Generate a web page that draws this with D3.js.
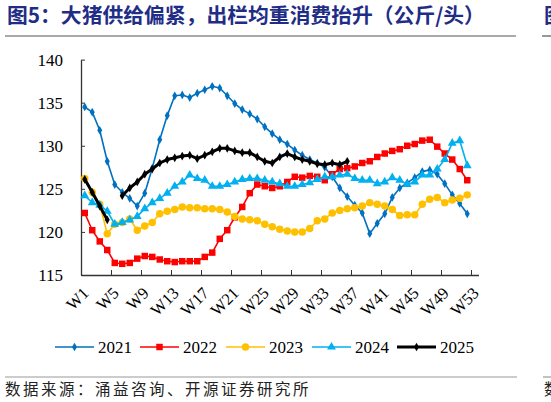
<!DOCTYPE html>
<html>
<head>
<meta charset="utf-8">
<script src="https://cdn.jsdelivr.net/npm/d3@7"></script>
<style>
  body { margin: 0; background: #fff; }
  svg { display: block; }
</style>
</head>
<body>
<div id="chart"></div>
<script>
// weeks on the x axis (53 slots, data stops at W52)
let weeks = d3.range(1, 54).map(d => "W" + d);
let tickLabels = ["W1","W5","W9","W13","W17","W21","W25","W29","W33","W37","W41","W45","W49","W53"];
let yTicks = [115, 120, 125, 130, 135, 140];
let years = ["2021", "2022", "2023", "2024", "2025"];

// average slaughter weight, kg/head
let v2021 = [134.5,133.9,131.8,128.2,125.5,124.6,123.9,123.0,124.5,127.4,130.7,133.5,135.8,135.9,135.6,136.1,136.5,136.9,
  136.7,135.8,134.9,134.2,133.7,133.1,132.2,131.4,130.7,130.2,129.5,128.9,128.4,128.0,127.5,126.4,125.1,124.1,123.1,122.2,
  119.8,121.0,122.1,124.0,125.1,125.7,126.3,127.0,127.2,126.7,125.6,124.3,123.3,122.1];
let v2022 = [122.2,120.2,118.9,117.9,116.4,116.3,116.4,116.9,117.2,117.1,116.8,116.6,116.5,116.6,116.6,116.6,117.1,117.6,
  119.2,120.2,121.7,122.9,124.5,125.5,125.3,125.1,125.3,125.8,126.4,126.3,126.5,126.4,126.0,126.7,127.3,127.4,127.6,128.0,
  128.2,128.7,129.1,129.4,129.6,130.0,130.2,130.6,130.7,129.9,129.1,128.4,127.3,126.0];
let v2023 = [126.2,124.6,123.2,119.8,120.9,121.1,121.5,120.2,120.7,121.1,122.1,122.4,122.6,122.9,122.8,122.8,122.7,122.7,
  122.6,122.3,121.8,121.5,121.4,121.3,120.9,120.6,120.3,120.1,120.0,120.0,120.4,121.3,121.5,122.2,122.5,122.7,122.8,123.0,
  123.4,123.2,123.0,122.6,121.9,122.0,122.0,123.2,123.8,124.0,123.4,123.7,123.9,124.3];
let v2024 = [124.2,123.4,123.1,122.4,120.9,121.1,121.4,121.8,122.7,123.4,123.9,124.5,125.3,125.8,126.6,126.2,126.0,125.3,
  125.3,125.5,125.8,126.1,126.2,126.2,126.0,125.8,125.6,125.3,125.3,125.5,125.7,126.1,126.4,126.4,126.6,126.7,126.2,126.0,
  126.0,125.6,125.8,126.3,126.0,125.5,125.8,126.6,126.6,127.3,128.4,130.3,130.6,127.7];
let v2025 = [126.1,124.6,123.0,121.4,null,124.2,125.1,125.8,126.7,127.3,128.0,128.4,128.6,128.8,128.9,128.5,128.9,129.3,
  129.7,129.7,129.4,129.2,129.2,128.7,128.2,128.0,128.7,129.1,128.7,128.4,128.2,127.9,127.8,128.0,127.8,128.2];

let allValues = [v2021, v2022, v2023, v2024, v2025];
let colors = ["#0070C0", "#FF0000", "#FFC000", "#00B0F0", "#000000"];
let markers = [d3.symbolDiamond, d3.symbolSquare, d3.symbolCircle, d3.symbolTriangle, d3.symbolDiamond];
let markerSize = [22, 42, 44, 34, 22];
let lineWidth = [1.6, 1.6, 1.6, 1.6, 3];

let svg = d3.select("#chart").append("svg")
    .attr("width", 551)
    .attr("height", 402);

// title + rules
svg.append("text")
    .attr("x", 7).attr("y", 23)
    .attr("font-family", "Noto Sans CJK SC")
    .attr("font-weight", "bold")
    .attr("font-size", 20.8)
    .attr("fill", "#1F2D86")
    .text("图5：大猪供给偏紧，出栏均重消费抬升（公斤/头）");
// next figure's title peeking in at the edge
svg.append("text")
    .attr("x", 544).attr("y", 23)
    .attr("font-family", "Noto Sans CJK SC")
    .attr("font-weight", "bold")
    .attr("font-size", 20.8)
    .attr("fill", "#1F2D86")
    .text("图");
svg.append("line").attr("x1", 5).attr("x2", 516).attr("y1", 36).attr("y2", 36)
    .attr("stroke", "#555").attr("stroke-width", 1.2);
svg.append("line").attr("x1", 542).attr("x2", 551).attr("y1", 36).attr("y2", 36)
    .attr("stroke", "#555").attr("stroke-width", 1.2);
svg.append("line").attr("x1", 5).attr("x2", 517).attr("y1", 377).attr("y2", 377)
    .attr("stroke", "#999").attr("stroke-width", 1.2);
svg.append("line").attr("x1", 543).attr("x2", 551).attr("y1", 377).attr("y2", 377)
    .attr("stroke", "#999").attr("stroke-width", 1.2);
svg.append("text")
    .attr("x", 5).attr("y", 395)
    .attr("font-family", "Noto Sans CJK SC")
    .attr("font-size", 15.5)
    .attr("letter-spacing", 2.5)
    .attr("fill", "#222")
    .text("数据来源：涌益咨询、开源证券研究所");
svg.append("text")
    .attr("x", 544).attr("y", 395)
    .attr("font-family", "Noto Sans CJK SC")
    .attr("font-size", 15.5)
    .attr("fill", "#222")
    .text("数");

// scales
let x = d3.scaleBand().domain(weeks).range([81, 478.5]);
let xc = w => x(w) + x.bandwidth() / 2;
let xLin = d3.scaleLinear().domain([0, 53]).range([81, 478.5]);
let y = d3.scaleLinear().domain([115, 140]).range([275, 59.6]);

// y axis
let yAxis = svg.append("g")
    .attr("transform", "translate(81,0)")
    .call(d3.axisLeft(y).tickValues(yTicks).tickSizeInner(-4).tickSizeOuter(0).tickPadding(18));
yAxis.selectAll("text")
    .attr("font-family", "Liberation Serif")
    .attr("font-size", 17)
    .attr("fill", "#000");

// x axis: ticks on every 4th category border
let xAxis = svg.append("g")
    .attr("transform", "translate(0,275)")
    .call(d3.axisBottom(xLin).tickValues(d3.range(4, 53, 4)).tickSizeInner(-5).tickSizeOuter(0).tickFormat(""));
svg.selectAll(".domain").attr("stroke", "#333").attr("stroke-width", 1.3);
svg.selectAll(".tick line").attr("stroke", "#333");

svg.append("g").selectAll("text")
    .data(tickLabels)
    .enter().append("text")
    .attr("transform", d => "translate(" + (xc(d) - 3) + ",286) rotate(-45)")
    .attr("text-anchor", "end")
    .attr("dy", "0.7em")
    .attr("font-family", "Liberation Serif")
    .attr("font-size", 16.5)
    .text(d => d);

// series
allValues.forEach(function(vals, i) {
  let pts = vals.map((v, k) => ({w: weeks[k], v: v}));
  let line = d3.line()
      .defined(d => d.v !== null)
      .x(d => xc(d.w))
      .y(d => y(d.v));
  svg.append("path")
      .datum(pts)
      .attr("fill", "none")
      .attr("stroke", colors[i])
      .attr("stroke-width", lineWidth[i])
      .attr("stroke-linejoin", "round")
      .attr("d", line);
  svg.append("g").selectAll("path")
      .data(pts.filter(d => d.v !== null))
      .enter().append("path")
      .attr("transform", d => "translate(" + xc(d.w) + "," + y(d.v) + ")")
      .attr("d", d3.symbol().type(markers[i]).size(markerSize[i]))
      .attr("fill", colors[i]);
});

// legend
let legX = [55, 140, 226, 312, 397];
let legend = svg.append("g").selectAll("g")
    .data(years)
    .enter().append("g")
    .attr("transform", (d, i) => "translate(" + legX[i] + ",347)");
legend.append("line")
    .attr("x1", 0).attr("x2", 39)
    .attr("stroke", (d, i) => colors[i])
    .attr("stroke-width", (d, i) => lineWidth[i]);
legend.append("path")
    .attr("transform", "translate(19.5,0)")
    .attr("d", (d, i) => d3.symbol().type(markers[i]).size(markerSize[i])())
    .attr("fill", (d, i) => colors[i]);
legend.append("text")
    .attr("x", 43).attr("dy", "0.35em")
    .attr("font-family", "Liberation Serif")
    .attr("font-size", 17)
    .text(d => d);
</script>
</body>
</html>
